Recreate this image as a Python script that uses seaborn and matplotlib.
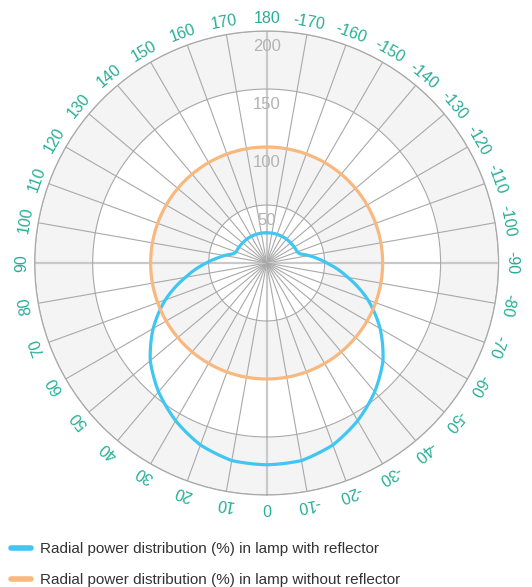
import matplotlib
matplotlib.use("Agg")
import matplotlib.pyplot as plt
from matplotlib.lines import Line2D
import seaborn as sns
import numpy as np
import pandas as pd

# angles in degrees: 0 at the bottom, positive going clockwise towards the left
angles = [-180, -170, -160, -150, -140, -130, -120, -110, -105, -100, -95,
          -90, -80, -70, -60, -50, -40, -30, -20, -10, 0,
          10, 20, 30, 40, 50, 60, 70, 80, 90,
          95, 100, 105, 110, 120, 130, 140, 150, 160, 170, 180]

with_reflector = [26, 26.2, 26.3, 26.5, 26.8, 27, 27.5, 28, 30, 37, 44,
                  52, 71, 93, 113, 131, 145, 157, 167, 173, 174,
                  173, 167, 157, 145, 131, 113, 93, 71, 52,
                  44, 37, 30, 28, 27.5, 27, 26.8, 26.5, 26.3, 26.2, 26]

without_reflector = [100] * len(angles)

series_names = ["Radial power distribution (%) in lamp with reflector",
                "Radial power distribution (%) in lamp without reflector"]
series_colors = ["#3fc6f2", "#f8b87e"]

ring_values = [50, 100, 150, 200]
angle_ticks = list(range(0, 360, 10))
angle_tick_labels = [str(a if a <= 180 else a - 360) for a in angle_ticks]

df = pd.concat([
    pd.DataFrame({"theta": np.deg2rad(angles), "value": with_reflector, "series": series_names[0]}),
    pd.DataFrame({"theta": np.deg2rad(angles), "value": without_reflector, "series": series_names[1]}),
], ignore_index=True)

sns.set_style("white")
plt.rcParams["font.family"] = ["Liberation Sans", "DejaVu Sans"]

fig = plt.figure(figsize=(5.32, 5.87), dpi=100)
ax = fig.add_axes([0.0652, 0.1567, 0.872, 0.7905], projection="polar")
ax.set_theta_zero_location("S")
ax.set_theta_direction(-1)

# shaded bands
full = np.linspace(0, 2 * np.pi, 361)
band_col = "#f5f4f5"
ax.fill_between(full, 50, 100, color=band_col, lw=0, zorder=0)
ax.fill_between(full, 150, 200, color=band_col, lw=0, zorder=0)

sns.lineplot(data=df, x="theta", y="value", hue="series", palette=series_colors,
             sort=False, estimator=None, linewidth=2.3, legend=False, ax=ax, zorder=5)
# draw segments as arcs in polar space instead of straight chords
for ln in ax.lines:
    ln.get_path()._interpolation_steps = 60

ax.set_ylim(0, 200)
ax.set_xlabel("")
ax.set_ylabel("")
ax.set_xticks(np.deg2rad(angle_ticks))
ax.set_xticklabels([])
ax.set_yticks(ring_values)
ax.set_yticklabels([])
ax.grid(True, color="#a9a9a9", lw=0.8)
ax.spines["polar"].set_color("#a9a9a9")
ax.spines["polar"].set_linewidth(0.9)
for i, gl in enumerate(ax.xaxis.get_gridlines()):
    if angle_ticks[i] % 90 == 0:
        gl.set_color("#c9c9c9")
        gl.set_linewidth(1.6)

# radial labels up the 180 spoke
for v in ring_values:
    ax.text(np.pi, v - 13, str(v), ha="center", va="center", fontsize=12,
            color="#b3b3b3", zorder=6)

# angle labels around the rim, tangential
for a, lab in zip(angle_ticks, angle_tick_labels):
    phi = 270 - a
    ax.text(np.deg2rad(a), 211, lab, ha="center", va="center", fontsize=11.5,
            color="#27ae96", rotation=phi - 90, rotation_mode="anchor", clip_on=False)

handles = [Line2D([], [], color=c, lw=4) for c in series_colors]
fig.legend(handles, series_names, loc="lower left", bbox_to_anchor=(0.02, 0.0),
           frameon=False, fontsize=11, handlelength=1.3, handletextpad=0.6,
           labelspacing=1.1, borderpad=0, borderaxespad=0, labelcolor="#333333")

fig.savefig("out.png", dpi=100)
